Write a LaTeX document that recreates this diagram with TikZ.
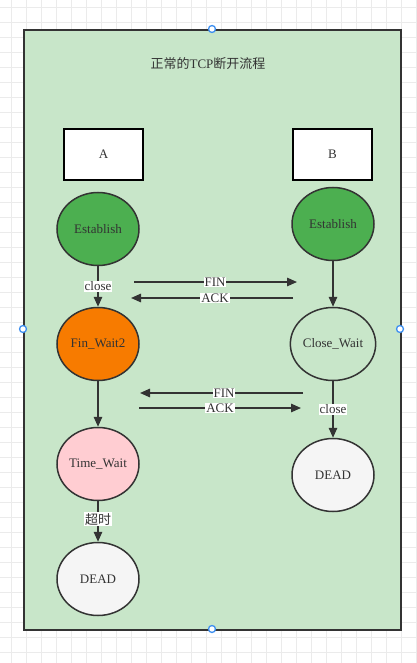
\documentclass[tikz,border=0pt]{standalone}
\usepackage{fontspec}
\setmainfont{Liberation Serif}
\newfontfamily\cjk{Noto Sans CJK SC}
\usetikzlibrary{arrows.meta,shapes.geometric}
\definecolor{bggreen}{HTML}{C8E6C9}
\definecolor{dk}{HTML}{333333}
\definecolor{estgreen}{HTML}{4CAF50}
\definecolor{orng}{HTML}{F77B00}
\definecolor{pnk}{HTML}{FFCDD2}
\definecolor{lgray}{HTML}{F5F5F5}
\definecolor{gridc}{HTML}{EBEBEB}
\definecolor{handle}{HTML}{3D8FF0}
\tikzset{
  state/.style={ellipse,draw=dk,line width=1.5pt,minimum width=82pt,minimum height=73pt,inner sep=0pt,font=\fontsize{13}{15}\selectfont,text=dk},
  box/.style={rectangle,draw=black,line width=1.2pt,fill=white,minimum width=79pt,minimum height=51pt,inner sep=0pt,font=\fontsize{13}{15}\selectfont,text=dk},
  conn/.style={draw=dk,line width=1.5pt,-{Triangle[length=10pt,width=8.5pt]}},
  lab/.style={fill=white,inner sep=1pt,font=\fontsize{13}{15}\selectfont,text=dk},
  hnd/.style={circle,draw=handle,line width=1.3pt,fill=white,minimum size=7pt,inner sep=0pt}
}
\begin{document}
\begin{tikzpicture}[x=1pt,y=-1pt]
\useasboundingbox (0,0) rectangle (416,663);
% grid
\foreach \i in {0,...,27} \draw[gridc,line width=0.8pt] (11.7+15*\i,0) -- (11.7+15*\i,663);
\foreach \j in {0,...,44} \draw[gridc,line width=0.8pt] (0,7.3+15*\j) -- (416,7.3+15*\j);
% container
\node[draw=dk,fill=bggreen,line width=1.6pt,minimum width=377pt,minimum height=600pt,inner sep=0pt,anchor=north west] (frame) at (23,29) {};
\node[font=\fontsize{13}{15}\selectfont,text=dk] (title) at (208,64) {{\cjk 正常的}TCP{\cjk 断开流程}};
% boxes
\node[box] (A) at (103.5,154.5) {A};
\node[box] (B) at (332.5,154.5) {B};
% states
\node[state,fill=estgreen] (estA) at (98,229) {Establish};
\node[state,fill=estgreen] (estB) at (333,224) {Establish};
\node[state,fill=orng] (fw2) at (98,344) {Fin\_Wait2};
\node[state,fill=bggreen] (cw) at (333,344) {Close\_Wait};
\node[state,fill=pnk] (tw) at (98,464) {Time\_Wait};
\node[state,fill=lgray] (deadB) at (333,475) {DEAD};
\node[state,fill=lgray] (deadA) at (98,579) {DEAD};
% vertical connectors
\draw[conn] (estA) -- node[lab] (l1) {close} (fw2);
\draw[conn] (estB) -- (cw);
\draw[conn] (cw) -- node[lab] (l2) {close} (deadB);
\draw[conn] (fw2) -- (tw);
\draw[conn] (tw) -- node[lab,pos=0.45] (l3) {\cjk 超时} (deadA);
% horizontal messages
\coordinate (f1s) at (134,282); \coordinate (f1e) at (297,282);
\coordinate (a1s) at (293,298); \coordinate (a1e) at (131,298);
\coordinate (f2s) at (303,393); \coordinate (f2e) at (140,393);
\coordinate (a2s) at (139,408); \coordinate (a2e) at (301,408);
\draw[conn] (f1s) -- (f1e);
\node[lab] (fin1) at (215,282) {FIN};
\draw[conn] (a1s) -- (a1e);
\node[lab] (ack1) at (215,298) {ACK};
\draw[conn] (f2s) -- (f2e);
\node[lab] (fin2) at (224,393) {FIN};
\draw[conn] (a2s) -- (a2e);
\node[lab] (ack2) at (220,408) {ACK};
% handles
\node[hnd] (h1) at (212,29) {};
\node[hnd] (h2) at (23,329) {};
\node[hnd] (h3) at (400,329) {};
\node[hnd] (h4) at (212,629) {};
\end{tikzpicture}
\end{document}
